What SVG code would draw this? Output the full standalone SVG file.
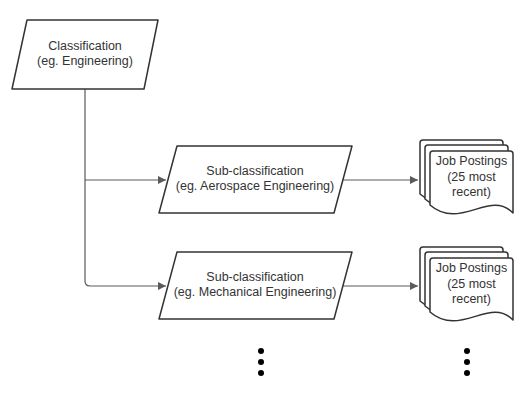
<svg xmlns="http://www.w3.org/2000/svg" width="525" height="405" viewBox="0 0 525 405">
<style>
.shape{fill:#fff;stroke:#333;stroke-width:1.5;stroke-linejoin:round}
.conn{fill:none;stroke:#5a5a5a;stroke-width:1.2}
text{font-family:"Liberation Sans",Arial,sans-serif;font-size:12.5px;fill:#333;text-anchor:middle}
.dot{fill:#000}
</style>
<defs>
<marker id="arr" viewBox="0 0 10 10" refX="10" refY="5" markerWidth="10" markerHeight="8" markerUnits="userSpaceOnUse" orient="auto">
<path d="M0,0 L10,5 L0,10 z" fill="#5a5a5a"/>
</marker>
<path id="doc" d="M0,3 Q0,0 3,0 L80,0 Q83,0 83,3 L83,62 C60,38 30,80 0,54 Z"/>
</defs>
<g id="connectors">
<path class="conn" d="M85,89 L85,281 Q85,286 90,286 L166,286" marker-end="url(#arr)"/>
<path class="conn" d="M85,180 L166,180" marker-end="url(#arr)"/>
<path class="conn" d="M343,180 L418,180" marker-end="url(#arr)"/>
<path class="conn" d="M343,286 L418,286" marker-end="url(#arr)"/>
</g>
<g id="classification">
<path class="shape" d="M27,20 L158,20 L144,89 L12,89 Z"/>
<text x="85" y="50">Classification</text>
<text x="85" y="65">(eg. Engineering)</text>
</g>
<g id="sub1">
<path class="shape" d="M177,146 L352,146 L334,213 L159,213 Z"/>
<text x="255" y="175">Sub-classification</text>
<text x="255" y="190">(eg. Aerospace Engineering)</text>
</g>
<g id="sub2">
<path class="shape" d="M177,252 L352,252 L334,319 L159,319 Z"/>
<text x="255" y="281">Sub-classification</text>
<text x="255" y="296">(eg. Mechanical Engineering)</text>
</g>
<g id="jobs1">
<use href="#doc" class="shape" x="420" y="140"/>
<use href="#doc" class="shape" x="425" y="145"/>
<use href="#doc" class="shape" x="430" y="151"/>
<text x="471.5" y="165">Job Postings</text>
<text x="471.5" y="180.5">(25 most</text>
<text x="471.5" y="196">recent)</text>
</g>
<g id="jobs2">
<use href="#doc" class="shape" x="420" y="247"/>
<use href="#doc" class="shape" x="425" y="252"/>
<use href="#doc" class="shape" x="430" y="258"/>
<text x="471.5" y="272">Job Postings</text>
<text x="471.5" y="287.5">(25 most</text>
<text x="471.5" y="303">recent)</text>
</g>
<g id="dots-left">
<circle class="dot" cx="261" cy="351" r="3"/>
<circle class="dot" cx="261" cy="362" r="3"/>
<circle class="dot" cx="261" cy="373" r="3"/>
</g>
<g id="dots-right">
<circle class="dot" cx="467" cy="351" r="3"/>
<circle class="dot" cx="467" cy="362" r="3"/>
<circle class="dot" cx="467" cy="373" r="3"/>
</g>
</svg>
